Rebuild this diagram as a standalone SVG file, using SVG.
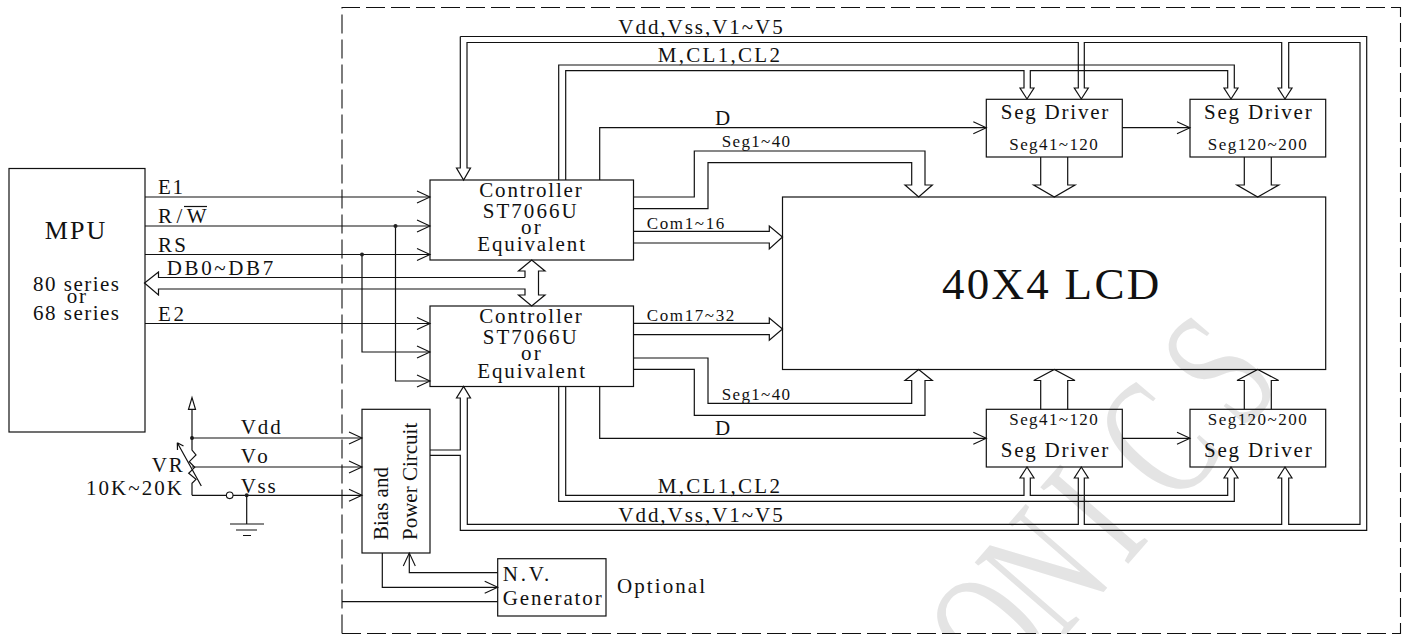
<svg xmlns="http://www.w3.org/2000/svg" width="1408" height="634" viewBox="0 0 1408 634">
<style>
text{font-family:"Liberation Serif","Times New Roman",serif;fill:#111}
.f20{font-size:21px}.f16{font-size:17px}.f24{font-size:26px}.f21{font-size:21px}
.box{fill:none;stroke:#111;stroke-width:1.2}
.w{fill:none;stroke:#111;stroke-width:1.2;stroke-linejoin:miter}
.a{marker-end:url(#open)}
</style>
<defs>
<marker id="open" markerUnits="userSpaceOnUse" markerWidth="16" markerHeight="16" refX="14" refY="8" orient="auto" viewBox="0 0 16 16"><path d="M1 2L14 8L1 14" fill="none" stroke="#111" stroke-width="1.1"/></marker>
</defs>
<rect width="1408" height="634" fill="#fff"/>
<text id="watermark" transform="translate(1035 671) rotate(-49) scale(.65 1)" x="-65 60 212 331 486" y="0" style="font-size:178px;fill:#e4e4e4">ONICS</text>
<g id="boundary"><path d="M342 633.5V7.5H1400.5V633.5H342" fill="none" stroke="#111" stroke-width="1.1" stroke-dasharray="19 6"/></g>
<g id="connectors">
<path class="w a" d="M145 197H430"/>
<path class="w a" d="M145 226H430"/>
<path class="w a" d="M145 254.5H430"/>
<path class="w a" d="M145 323.5H430"/>
<path class="w a" d="M362 254.5V352H430"/>
<path class="w a" d="M395.5 226V381H430"/>
<circle cx="395.5" cy="226" r="2" fill="#222"/>
<circle cx="362" cy="254.5" r="2" fill="#222"/>
<path class="w" d="M525 277.5H158.5V272L144.5 283L158.5 295V289H525V295H518.5L531.7 306L545 295H538.5V271H545L531.7 260L518.5 271H525V277.5"/>
<path class="w" d="M460.3 36.5H1366.7V530.3H460.3V455.3H430"/>
<path class="w" d="M430 450H460.3V398H456.5L463.6 386.5L470.5 398H467.3V524.3H1078.3V478H1074.3L1081.3 467L1088.3 478H1084.3V524.3H1281.7V478H1278L1285 467L1292 478H1288.7V524.3H1360V42.5H1288.7V88H1292L1285 99L1278 88H1281.7V42.5H1084.3V88H1088.3L1081.3 99L1074.3 88H1078.3V42.5H467V168H470.5L463.6 180L456.5 168H460.3V36.5"/>
<path class="w" d="M558.7 180V65H1234.3V88H1238L1231 99L1224 88H1227.7V70.7H1030.3V88H1034L1027 99L1020 88H1024V70.7H565.7V180"/>
<path class="w" d="M558.7 386.5V501.3H1234.3V478H1238L1231 467L1224 478H1227.7V495.3H1030.3V478H1034L1027 467L1020 478H1024V495.3H565.7V386.5"/>
<path class="w a" d="M599.7 180V127.7H986.3"/>
<path class="w a" d="M1122.3 127.7H1190"/>
<path class="w a" d="M599.7 386.5V438.3H986.3"/>
<path class="w a" d="M1122.3 438.3H1190"/>
<path class="w" d="M633.5 197H694.3V151H925V185H932.3L918.7 197L905 185H911.7V162.7H708V208.7H633.5"/>
<path class="w" d="M633.5 358H708V403.3H911.7V380.5H905L918.7 369.5L932.3 380.5H925V415.3H694.3V369.3H633.5"/>
<path class="w" d="M633.5 231.3H769.3V226L782.5 237L769.3 249V243H633.5"/>
<path class="w" d="M633.5 323.3H769.3V318L782.5 329L769.3 340.3V334.7H633.5"/>
<path class="w" d="M1040.7 157V185H1033.7L1054.3 197L1075 185H1067.7V157"/>
<path class="w" d="M1244.3 157V185H1237L1257.7 197L1278.7 185H1271.3V157"/>
<path class="w" d="M1040.7 409.3V380.5H1033.7L1054.3 369.5L1075 380.5H1067.7V409.3"/>
<path class="w" d="M1244.3 409.3V380.5H1237L1257.7 369.5L1278.7 380.5H1271.3V409.3"/>
<path class="w a" d="M192 438H362"/>
<path class="w a" d="M192 467H362"/>
<path class="w a" d="M192 495.3H226.4M233 495.3H362"/>
<circle cx="229.7" cy="495.3" r="3.3" fill="#fff" stroke="#111" stroke-width="1.1"/>
<circle cx="192" cy="438" r="2" fill="#222"/>
<circle cx="246.7" cy="495.3" r="2" fill="#222"/>
<path class="w" d="M192 438V409.3H188.5L192 397.7L195.5 409.3H192"/>
<path class="w" d="M192 438V450L196 455L189.3 461.7L194.7 467.3L188.7 473.3L196 479.3L192 483.3V495.3"/>
<path class="w" d="M201.3 486L177.3 442.7M177.3 442.7L177.5 450M177.3 442.7L183.5 446"/>
<path class="w" d="M246.7 495.3V524M230 524H264M236 530H257M243 535.5H251"/>
<path class="w a" d="M382.3 553V587.3H497.7"/>
<path class="w a" d="M497.7 572.7H409.3V553"/>
<path class="w" d="M342 601.7H497.7"/>
<path class="w" d="M184 206.5H207"/>
<g id="connector-labels">
<text class="f20" x="158" y="194" textLength="25">E1</text>
<text class="f20" x="158" y="222.7" textLength="48.5">R/W</text>
<text class="f20" x="158" y="251.7" textLength="28">RS</text>
<text class="f20" x="166.7" y="275" textLength="106.5">DB0~DB7</text>
<text class="f20" x="158" y="321" textLength="26">E2</text>
<text class="f20" x="240.7" y="434.3" textLength="40">Vdd</text>
<text class="f20" x="240.7" y="463.3" textLength="27">Vo</text>
<text class="f20" x="240.7" y="492.7" textLength="35">Vss</text>
<text class="f20" x="151.7" y="471.7" textLength="31">VR</text>
<text class="f20" x="86" y="495" textLength="96">10K~20K</text>
<text class="f20" x="618.3" y="34" textLength="164.4">Vdd,Vss,V1~V5</text>
<text class="f20" x="657.7" y="62.3" textLength="122.3">M,CL1,CL2</text>
<text class="f20" x="715" y="125" textLength="15">D</text>
<text class="f16" x="721.7" y="147.3" textLength="68.3">Seg1~40</text>
<text class="f16" x="646.7" y="229.3" textLength="77.6">Com1~16</text>
<text class="f16" x="646.7" y="321" textLength="87.6">Com17~32</text>
<text class="f16" x="721.7" y="400" textLength="68.3">Seg1~40</text>
<text class="f20" x="715" y="434.7" textLength="15">D</text>
<text class="f20" x="657.7" y="493" textLength="122.3">M,CL1,CL2</text>
<text class="f20" x="618.3" y="522" textLength="164.4">Vdd,Vss,V1~V5</text>
</g>
</g>
<g id="mpu">
<rect class="box" x="9" y="168.5" width="136" height="263.5"/>
<text class="f24" x="44.7" y="239" textLength="60.6">MPU</text>
<text class="f20" x="33" y="291" textLength="86">80 series</text>
<text class="f20" x="66.7" y="303" textLength="19.3">or</text>
<text class="f20" x="33" y="320" textLength="86">68 series</text>
</g>
<g id="controller1">
<rect class="box" x="430" y="180" width="203.5" height="80"/>
<text class="f20" x="479.3" y="196.7" textLength="102.4">Controller</text>
<text class="f20" x="482.7" y="218.3" textLength="94">ST7066U</text>
<text class="f20" x="521" y="234" textLength="19.7">or</text>
<text class="f20" x="477.3" y="251" textLength="107.7">Equivalent</text>
</g>
<g id="controller2">
<rect class="box" x="430" y="306" width="203.5" height="80.5"/>
<text class="f20" x="479.3" y="323.3" textLength="102.4">Controller</text>
<text class="f20" x="482.7" y="344.3" textLength="94">ST7066U</text>
<text class="f20" x="521" y="360" textLength="19.7">or</text>
<text class="f20" x="477.3" y="378" textLength="107.7">Equivalent</text>
</g>
<g id="lcd">
<rect class="box" x="782.5" y="197" width="543.2" height="172.5"/>
<text x="941.9" y="299" style="font-size:45px" textLength="217.3">40X4 LCD</text>
</g>
<g id="seg-top-1">
<rect class="box" x="986.3" y="99.3" width="136" height="57.7"/>
<text class="f20" x="1000.7" y="119.3" textLength="107.6">Seg Driver</text>
<text class="f16" x="1009.3" y="150" textLength="88.4">Seg41~120</text>
</g>
<g id="seg-top-2">
<rect class="box" x="1190" y="99.3" width="135.7" height="57.7"/>
<text class="f20" x="1204" y="119.3" textLength="107.7">Seg Driver</text>
<text class="f16" x="1207.7" y="150" textLength="99">Seg120~200</text>
</g>
<g id="seg-bot-1">
<rect class="box" x="986.3" y="409.3" width="136" height="57.7"/>
<text class="f16" x="1009.3" y="425" textLength="88.4">Seg41~120</text>
<text class="f20" x="1000.7" y="457.3" textLength="107.6">Seg Driver</text>
</g>
<g id="seg-bot-2">
<rect class="box" x="1190" y="409.3" width="135.7" height="57.7"/>
<text class="f16" x="1207.7" y="425" textLength="99">Seg120~200</text>
<text class="f20" x="1204" y="457.3" textLength="107.7">Seg Driver</text>
</g>
<g id="bias">
<rect class="box" x="362" y="409.3" width="68" height="143.7"/>
<text class="f21" transform="translate(388.3 540) rotate(-90)">Bias and</text>
<text class="f21" transform="translate(416.7 540) rotate(-90)">Power Circuit</text>
</g>
<g id="nv">
<rect class="box" x="497.7" y="558.7" width="108.3" height="57.3"/>
<text class="f20" x="502.7" y="581" textLength="46.6">N.V.</text>
<text class="f20" x="502.7" y="605" textLength="99">Generator</text>
</g>
<text class="f20" x="617" y="593" textLength="88">Optional</text>
</svg>
